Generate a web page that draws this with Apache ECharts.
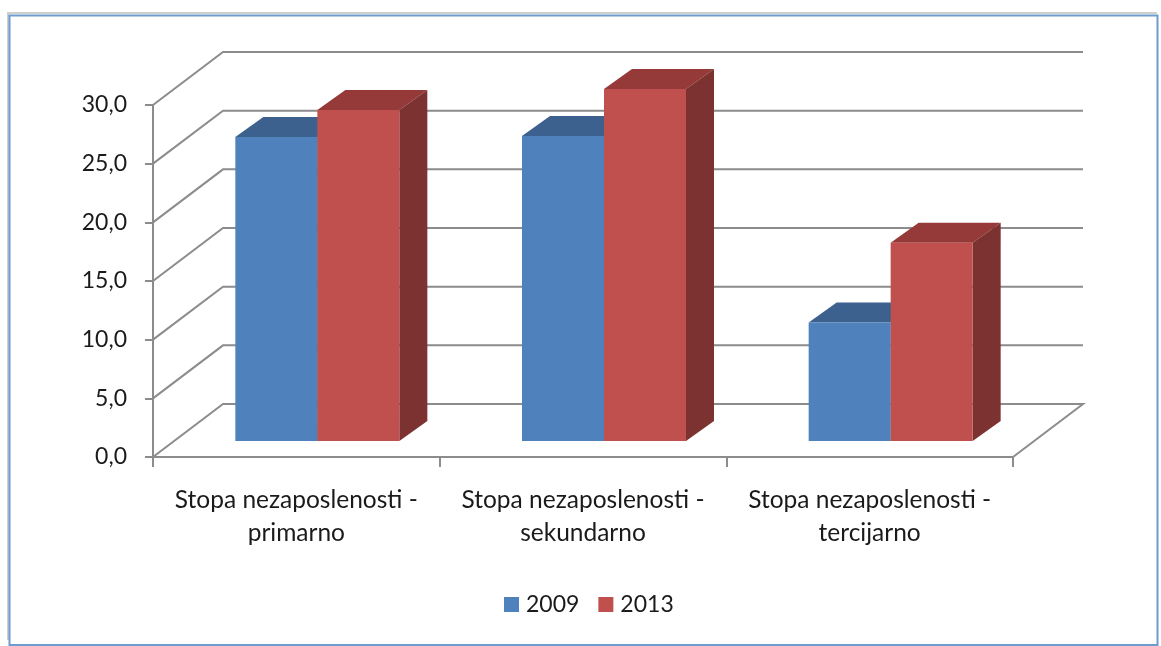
<!DOCTYPE html>
<html><head><meta charset="utf-8">
<style>html,body{margin:0;padding:0;background:#fff}#c{width:1161px;height:646px}</style>
<script src="https://cdn.jsdelivr.net/npm/echarts@6/dist/echarts.min.js"></script>
</head><body><div id="c"></div>
<script>
const categories = ["Stopa nezaposlenosti -\nprimarno","Stopa nezaposlenosti -\nsekundarno","Stopa nezaposlenosti -\ntercijarno"];
const values2009 = [25.9, 26.0, 10.1];
const values2013 = [28.2, 30.0, 16.9];
const yTicks = [0, 5, 10, 15, 20, 25, 30];

const FONT = 'Lato, "Open Sans", sans-serif';
const GRID = '#8c8c8c';
const WALL_DX = 70, WALL_DY = -53;   // floor depth
const BAR_DX = 28, BAR_DY = -20;     // bar depth
const FLOOR_DX = 21, FLOOR_DY = -16; // bar's offset from the front edge
const BAR_W = 82;

function wallItem(params, api) {
  const cs = params.coordSys;
  const v = api.value(1);
  const p = api.coord([0, v]);
  const x0 = cs.x, x1 = cs.x + cs.width, y = p[1];
  const points = [[x0, y], [x0 + WALL_DX, y + WALL_DY], [x1 + WALL_DX, y + WALL_DY]];
  if (v === 0) points.push([x1, y]);
  return {type: 'polyline', shape: {points}, style: {fill: null, stroke: GRID, lineWidth: 2}};
}
function barItem(slot, front, top, side) {
  return function (params, api) {
    const c = api.value(0), v = api.value(1);
    const base = api.coord([c, 0]), head = api.coord([c, v]);
    const x0 = base[0] + FLOOR_DX + (slot - 1) * BAR_W, x1 = x0 + BAR_W;
    const yb = base[1] + FLOOR_DY, yt = head[1] + FLOOR_DY;
    const poly = (pts, fill) => ({type: 'polygon', shape: {points: pts}, style: {fill}});
    return {type: 'group', children: [
      poly([[x0, yt], [x0 + BAR_DX, yt + BAR_DY], [x1 + BAR_DX, yt + BAR_DY], [x1, yt]], top),
      poly([[x1, yt], [x1 + BAR_DX, yt + BAR_DY], [x1 + BAR_DX, yb + BAR_DY], [x1, yb]], side),
      poly([[x0, yt], [x1, yt], [x1, yb], [x0, yb]], front)
    ]};
  };
}
const chart = echarts.init(document.getElementById('c'), null, {renderer: 'canvas'});
chart.setOption({
  animation: false,
  backgroundColor: '#fff',
  textStyle: {fontFamily: FONT},
  graphic: [
    {type: 'polyline', silent: true, z: 0, shape: {points: [[8, 640], [8, 13], [1157, 13]]}, style: {fill: null, stroke: '#cfcfcf', lineWidth: 2}},
    {type: 'rect', silent: true, z: 0, shape: {x: 9.5, y: 15.5, width: 1148, height: 629.5}, style: {fill: null, stroke: '#6f9bd1', lineWidth: 2}}
  ],
  grid: {left: 153, top: 105, width: 860, height: 352},
  legend: {
    data: ['2009', '2013'], left: 499, top: 588, itemWidth: 15, itemHeight: 15, itemGap: 19, icon: 'rect',
    textStyle: {fontFamily: FONT, fontSize: 23, color: '#1a1a1a', padding: [2, 0, 0, 2]}
  },
  xAxis: {
    type: 'category', data: categories,
    axisLine: {lineStyle: {color: GRID, width: 2}},
    axisTick: {show: true, length: 10, alignWithLabel: false, lineStyle: {color: GRID, width: 2}},
    axisLabel: {margin: 27, fontFamily: FONT, fontSize: 24.5, color: '#1a1a1a', lineHeight: 33, interval: 0},
    splitLine: {show: false}
  },
  yAxis: {
    type: 'value', min: 0, max: 30, interval: 5,
    axisLine: {show: true, lineStyle: {color: GRID, width: 2}},
    axisTick: {show: true, length: 8, lineStyle: {color: GRID, width: 2}},
    axisLabel: {margin: 26, fontFamily: FONT, fontSize: 23, color: '#1a1a1a', padding: [9, 0, 0, 0], formatter: v => v.toFixed(1).replace('.', ',')},
    splitLine: {show: false}
  },
  series: [
    {type: 'custom', name: 'grid', silent: true, z: 1, renderItem: wallItem, encode: {x: 0, y: 1}, data: yTicks.map(v => [0, v])},
    {type: 'custom', name: '2009', z: 2, itemStyle: {color: '#4f81bd'}, renderItem: barItem(0, '#4f81bd', '#3c618e', '#385d8a'), encode: {x: 0, y: 1}, data: values2009.map((v, i) => [i, v])},
    {type: 'custom', name: '2013', z: 3, itemStyle: {color: '#c0504d'}, renderItem: barItem(1, '#c0504d', '#953a38', '#7b3230'), encode: {x: 0, y: 1}, data: values2013.map((v, i) => [i, v])}
  ]
});
</script></body></html>
